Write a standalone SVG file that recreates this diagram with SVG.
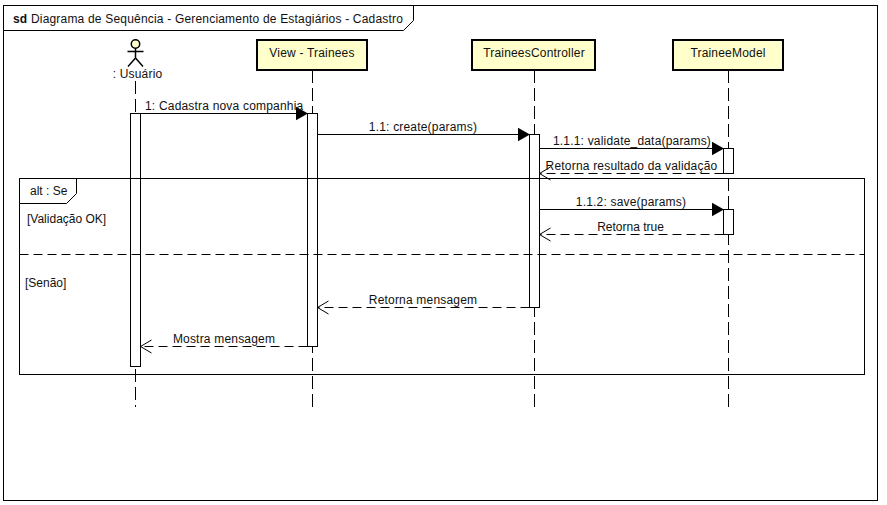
<svg xmlns="http://www.w3.org/2000/svg" width="887" height="505" viewBox="0 0 887 505">
<style>
text{font-family:"Liberation Sans",Arial,sans-serif;font-size:12px;letter-spacing:.19px;fill:#111}
text.t{letter-spacing:0}
.m{text-anchor:middle}
.s{fill:none;stroke:#000;stroke-width:1}
.b{fill:#ffffcc;stroke:#000;stroke-width:2}
.a{fill:#fff;stroke:#000;stroke-width:1}
.l{fill:none;stroke:#000;stroke-width:1;stroke-dasharray:13 5}
.d{fill:none;stroke:#000;stroke-width:1;stroke-dasharray:9 5}
.o{fill:none;stroke:#000;stroke-width:1}
</style>
<defs>
<marker id="f" markerUnits="userSpaceOnUse" markerWidth="13" markerHeight="15" refX="12" refY="7.500" orient="auto"><path d="M0 0.500L12.500 7.500L0 14.500Z" fill="#000"/></marker>
<marker id="v" markerUnits="userSpaceOnUse" markerWidth="13" markerHeight="15" refX="12" refY="7.500" orient="auto"><path d="M1 1L12 7.500L1 14" fill="none" stroke="#000"/></marker>
</defs>
<rect width="887" height="505" fill="#fff"/>
<g id="frame">
<rect class="s" x="3.500" y="5.500" width="874" height="495"/>
<path class="s" d="M3.500 30.500H403.500L413.500 20.500V5.500"/>
<text x="13" y="23"><tspan font-weight="bold">sd</tspan> Diagrama de Sequência - Gerenciamento de Estagiários - Cadastro</text>
</g>
<g id="lifelines">
<line class="l" x1="135.500" y1="81" x2="135.500" y2="407"/>
<line class="l" x1="312.500" y1="70" x2="312.500" y2="407"/>
<line class="l" x1="534.500" y1="70" x2="534.500" y2="407"/>
<line class="l" x1="728.500" y1="70" x2="728.500" y2="407"/>
</g>
<g id="actor">
<circle cx="135.500" cy="44" r="4.200" fill="#ffffcc" stroke="#000" stroke-width="1.500"/>
<path d="M135.500 48V58M127.500 51.500H143.500M135.500 58L128 66.500M135.500 58L143 66.500" fill="none" stroke="#000" stroke-width="1.500"/>
<text class="m" x="137.500" y="78">: Usuário</text>
</g>
<g id="view"><rect class="b" x="257" y="40" width="110" height="30"/><text class="m" x="312" y="57">View - Trainees</text></g>
<g id="controller"><rect class="b" x="472" y="40" width="123" height="30"/><text class="m" x="534" y="57">TraineesController</text></g>
<g id="model"><rect class="b" x="673" y="40" width="110" height="30"/><text class="m" x="728" y="57">TraineeModel</text></g>
<g id="activations">
<rect class="a" x="130.500" y="113.500" width="10" height="253"/>
<rect class="a" x="307.500" y="113.500" width="10" height="233"/>
<rect class="a" x="529.500" y="134.500" width="10" height="173"/>
<rect class="a" x="723.500" y="148.500" width="10" height="25"/>
<rect class="a" x="723.500" y="209.500" width="10" height="25"/>
</g>
<g id="alt">
<rect class="s" x="19.500" y="178.500" width="845" height="196"/>
<path class="s" d="M19.500 203.500H66.500L76.500 193.500V178.500"/>
<line class="d" x1="19.500" y1="254.500" x2="864.500" y2="254.500"/>
<text class="t" x="30" y="195">alt : Se</text>
<text class="t" x="27" y="222.500">[Validação OK]</text>
<text class="t" x="25" y="287">[Senão]</text>
</g>
<g id="connectors">
<line class="o" x1="140.500" y1="113.500" x2="307.500" y2="113.500" marker-end="url(#f)"/>
<line class="o" x1="317.500" y1="134.500" x2="529.500" y2="134.500" marker-end="url(#f)"/>
<line class="o" x1="539.500" y1="148.500" x2="723.500" y2="148.500" marker-end="url(#f)"/>
<line class="d" x1="723.500" y1="173.500" x2="539.500" y2="173.500" marker-end="url(#v)"/>
<line class="o" x1="539.500" y1="209.500" x2="723.500" y2="209.500" marker-end="url(#f)"/>
<line class="d" x1="723.500" y1="234.500" x2="539.500" y2="234.500" marker-end="url(#v)"/>
<line class="d" x1="529.500" y1="307.500" x2="317.500" y2="307.500" marker-end="url(#v)"/>
<line class="d" x1="307.500" y1="346.500" x2="140.500" y2="346.500" marker-end="url(#v)"/>
</g>
<g id="labels">
<text x="145" y="110">1: Cadastra nova companhia</text>
<text class="m" x="423" y="131">1.1: create(params)</text>
<text class="m" x="632" y="145">1.1.1: validate_data(params)</text>
<text class="m" x="631.500" y="170">Retorna resultado da validação</text>
<text class="m" x="631" y="206">1.1.2: save(params)</text>
<text class="m t" x="630.500" y="231">Retorna true</text>
<text class="m" x="423" y="304">Retorna mensagem</text>
<text class="m" x="224" y="343">Mostra mensagem</text>
</g>
</svg>
